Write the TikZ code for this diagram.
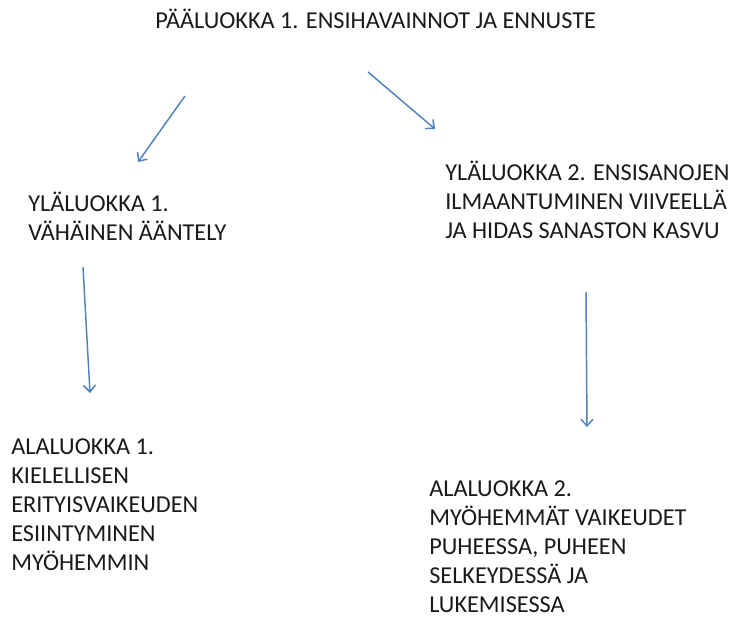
\documentclass[tikz,border=0pt]{standalone}
\usepackage{fontspec}
\setmainfont{Carlito}
\usepackage{tikz}
\usetikzlibrary{arrows.meta,calc,positioning}
\definecolor{lkBlue}{HTML}{4F81BD}
\definecolor{lkInk}{HTML}{1A1A1A}
\tikzset{
  lktext/.style={
    anchor=base west,
    inner sep=0pt,
    align=left,
    text=lkInk,
    font=\fontsize{18.2}{21.6}\selectfont
  },
  lkarrow/.style={-{Straight Barb[length=5pt,width=9pt]}, line width=1.1pt, draw=lkBlue}
}
\begin{document}
\begin{tikzpicture}[x=0.75pt,y=-0.75pt]
  \useasboundingbox (0,0) rectangle (734,619);

  % nodes sit on the baseline of their last line
  \node[lktext] (paa) at (155,28) {PÄÄLUOKKA 1. ENSIHAVAINNOT JA ENNUSTE};

  \node[lktext] (yla1) at (28,240) {YLÄLUOKKA 1.\\VÄHÄINEN ÄÄNTELY};
  \node[lktext] (yla2) at (445,238) {YLÄLUOKKA 2. ENSISANOJEN\\ILMAANTUMINEN VIIVEELLÄ\\JA HIDAS SANASTON KASVU};

  \node[lktext] (ala1) at (11,570) {ALALUOKKA 1.\\KIELELLISEN\\ERITYISVAIKEUDEN\\ESIINTYMINEN\\MYÖHEMMIN};
  \node[lktext] (ala2) at (429,612) {ALALUOKKA 2.\\MYÖHEMMÄT VAIKEUDET\\PUHEESSA, PUHEEN\\SELKEYDESSÄ JA\\LUKEMISESSA};

  \draw[lkarrow] ($(paa.base west)+(30,68)$) -- ($(yla1.base west)+(110,-78)$);
  \draw[lkarrow] ($(paa.base west)+(213,44)$) -- ($(yla2.base west)+(-10,-109)$);
  \draw[lkarrow] ($(yla1.base west)+(55,27)$) -- ($(ala1.base west)+(79,-177)$);
  \draw[lkarrow] ($(yla2.base west)+(141,54)$) -- ($(ala2.base west)+(158,-185)$);
\end{tikzpicture}
\end{document}
